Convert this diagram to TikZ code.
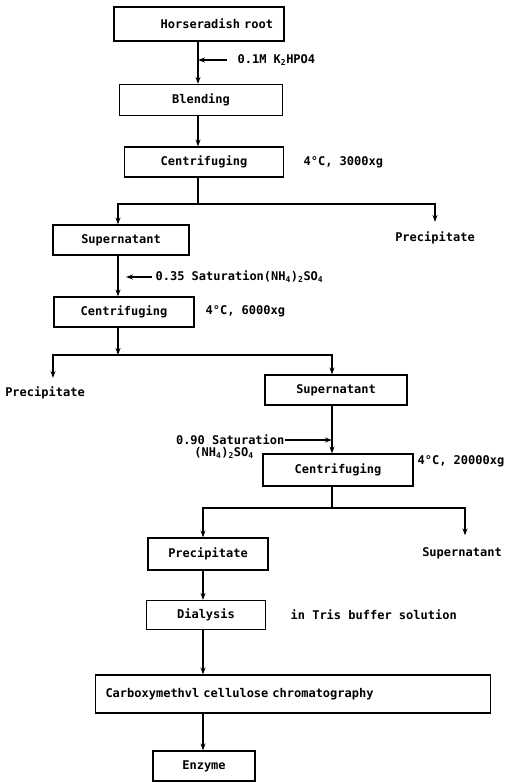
\documentclass[tikz,border=0pt]{standalone}
\usepackage{fontspec}
\setmonofont{DejaVu Sans Mono}
\usetikzlibrary{arrows.meta}

\begin{document}
\begin{tikzpicture}[x=1pt, y=-1pt, line width=1.2pt,
    >={Stealth[length=7pt, width=5pt]},
    every node/.style={font=\ttfamily\bfseries\fontsize{12}{13}\selectfont},
    box/.style={draw, minimum height=30, inner sep=0pt},
    note/.style={inner sep=0pt, anchor=west}]
                \useasboundingbox (0,0) rectangle (512,784);
                \coordinate (cola) at (198,0);
                \coordinate (colb) at (118,0);
                \coordinate (colc) at (332,0);
                \coordinate (cold) at (203,0);
                \coordinate (colp) at (53,0);
                \coordinate (cols) at (465,0);
                \node[box, minimum height=34, text width=148, inner xsep=11pt, align=right] (root) at (199,24) {Horseradish root};
                \node[note] (k2) at (237,60) {0.1M K\textsubscript{2}HPO4};
                \node[box, minimum width=163, minimum height=31] (blend) at (201,100) {Blending};
                \node[box, minimum width=159] (cfa) at (204,162) {Centrifuging};
                \node[note] (cfanote) at (303,162) {4°C, 3000xg};
                \coordinate (splita) at (198,204);
                \node (preca) at (435,238) {Precipitate};
                \node[box, minimum width=136] (supa) at (121,240) {Supernatant};
                \node[note] (ammb) at (155,277) {0.35 Saturation(NH\textsubscript{4})\textsubscript{2}SO\textsubscript{4}};
                \node[box, minimum width=140] (cfb) at (124,312) {Centrifuging};
                \node[note] (cfbnote) at (205,311) {4°C, 6000xg};
                \coordinate (splitb) at (118,355);
                \node (precb) at (45,393) {Precipitate};
                \node[box, minimum width=142] (supb) at (336,390) {Supernatant};
                \node[note, anchor=east] (satc) at (285,440) {0.90 Saturation};
                \node[inner sep=0pt] (ammc) at (224,453) {(NH\textsubscript{4})\textsubscript{2}SO\textsubscript{4}};
                \node[box, minimum width=150, minimum height=32] (cfc) at (338,470) {Centrifuging};
                \node[note] (cfcnote) at (417,461) {4°C, 20000xg};
                \coordinate (splitc) at (332,508);
                \node (supc) at (462,553) {Supernatant};
                \node[box, minimum width=120, minimum height=32] (precc) at (208,554) {Precipitate};
                \node[box, minimum width=119, minimum height=29] (dial) at (206,615) {Dialysis};
                \node[note] (tris) at (290,615) {in Tris buffer solution};
                \node[box, minimum height=38, text width=375, inner xsep=10pt, align=left] (cmc) at (293,694) {Carboxymethvl cellulose chromatography};
                \node[box, minimum width=102] (enz) at (204,766) {Enzyme};
                \draw[->] (root.south -| cola) -- (blend.north -| cola);
                \draw[->] ([xshift=-10pt]k2.west) -- (k2.west -| cola);
                \draw[->] (blend.south -| cola) -- (cfa.north -| cola);
                \draw (cfa.south -| cola) -- (splita);
                \draw[->] (splita) -- (splita -| colb) -- (supa.north -| colb);
                \draw[->, shorten >=6pt] (splita) -| (preca.north);
                \draw[->] (supa.south -| colb) -- (cfb.north -| colb);
                \draw[->, shorten >=8pt] ([xshift=-3pt]ammb.west) -- (ammb.west -| colb);
                \draw[->] (cfb.south -| colb) -- (splitb);
                \draw[->, shorten >=5pt] (splitb) -- (splitb -| colp) -- (precb.north -| colp);
                \draw[->] (splitb) -- (splitb -| colc) -- (supb.north -| colc);
                \draw[->] (supb.south -| colc) -- (cfc.north -| colc);
                \draw[->] (satc.east) -- (satc.east -| colc);
                \draw (cfc.south -| colc) -- (splitc);
                \draw[->] (splitc) -- (splitc -| cold) -- (precc.north -| cold);
                \draw[->, shorten >=8pt] (splitc) -- (splitc -| cols) -- (supc.north -| cols);
                \draw[->] (precc.south -| cold) -- (dial.north -| cold);
                \draw[->] (dial.south -| cold) -- (cmc.north -| cold);
                \draw[->] (cmc.south -| cold) -- (enz.north -| cold);
                \end{tikzpicture}
\end{document}
